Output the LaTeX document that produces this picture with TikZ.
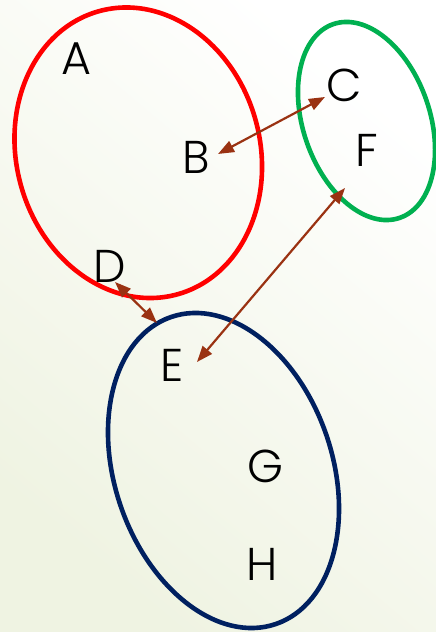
\documentclass[tikz,border=0pt]{standalone}
\usepackage{fontspec}
\setmainfont{Poppins}[UprightFont=* Light]
\usetikzlibrary{arrows.meta}
\definecolor{bgc}{RGB}{239,243,226}
\definecolor{setred}{RGB}{255,0,0}
\definecolor{setgreen}{RGB}{0,176,80}
\definecolor{setblue}{RGB}{0,32,96}
\definecolor{arrowc}{RGB}{154,50,18}
\tikzset{
  setline/.style={line width=4.6pt},
  lbl/.style={inner sep=0pt, font=\fontsize{46}{46}\selectfont, text=black, anchor=center},
  link/.style={arrowc, line width=2.2pt, {Triangle[length=16pt,width=12pt]}-{Triangle[length=16pt,width=12pt]}}
}
\begin{document}
\begin{tikzpicture}[x=1pt,y=1pt]
\useasboundingbox (0,0) rectangle (436,632);
\shade[top color=white, bottom color=bgc, shading angle=-40] (0,0) rectangle (436,632);
% sets
\draw[setline, setred, rotate around={15.5:(138.25,479.25)}] (138.25,479.25) ellipse (121.8pt and 146.9pt);
\draw[setline, setgreen, rotate around={18.9:(366.5,511)}] (366.5,511) ellipse (63.4pt and 102.4pt);
\draw[setline, setblue, rotate around={18.8:(223.5,161.5)}] (223.5,161.5) ellipse (108.8pt and 162.2pt);
% labels
\node[lbl] (A) at (76,573) {A};
\node[lbl] (B) at (196,475) {B};
\node[lbl] (C) at (344,547) {C};
\node[lbl] (F) at (367,482) {F};
\node[lbl] (D) at (110,366) {D};
\node[lbl] (E) at (172,267) {E};
\node[lbl] (G) at (265,166) {G};
\node[lbl] (H) at (262,68) {H};
% connector ends
\coordinate (Bend) at (218,478);
\coordinate (Cend) at (325,535);
\coordinate (Dend) at (115,350);
\coordinate (Eend1) at (157,309);
\coordinate (Eend2) at (197,270);
\coordinate (Fend) at (345,444);
\draw[link] (Bend) -- (Cend);
\draw[link] (Dend) -- (Eend1);
\draw[link] (Eend2) -- (Fend);
\end{tikzpicture}
\end{document}
